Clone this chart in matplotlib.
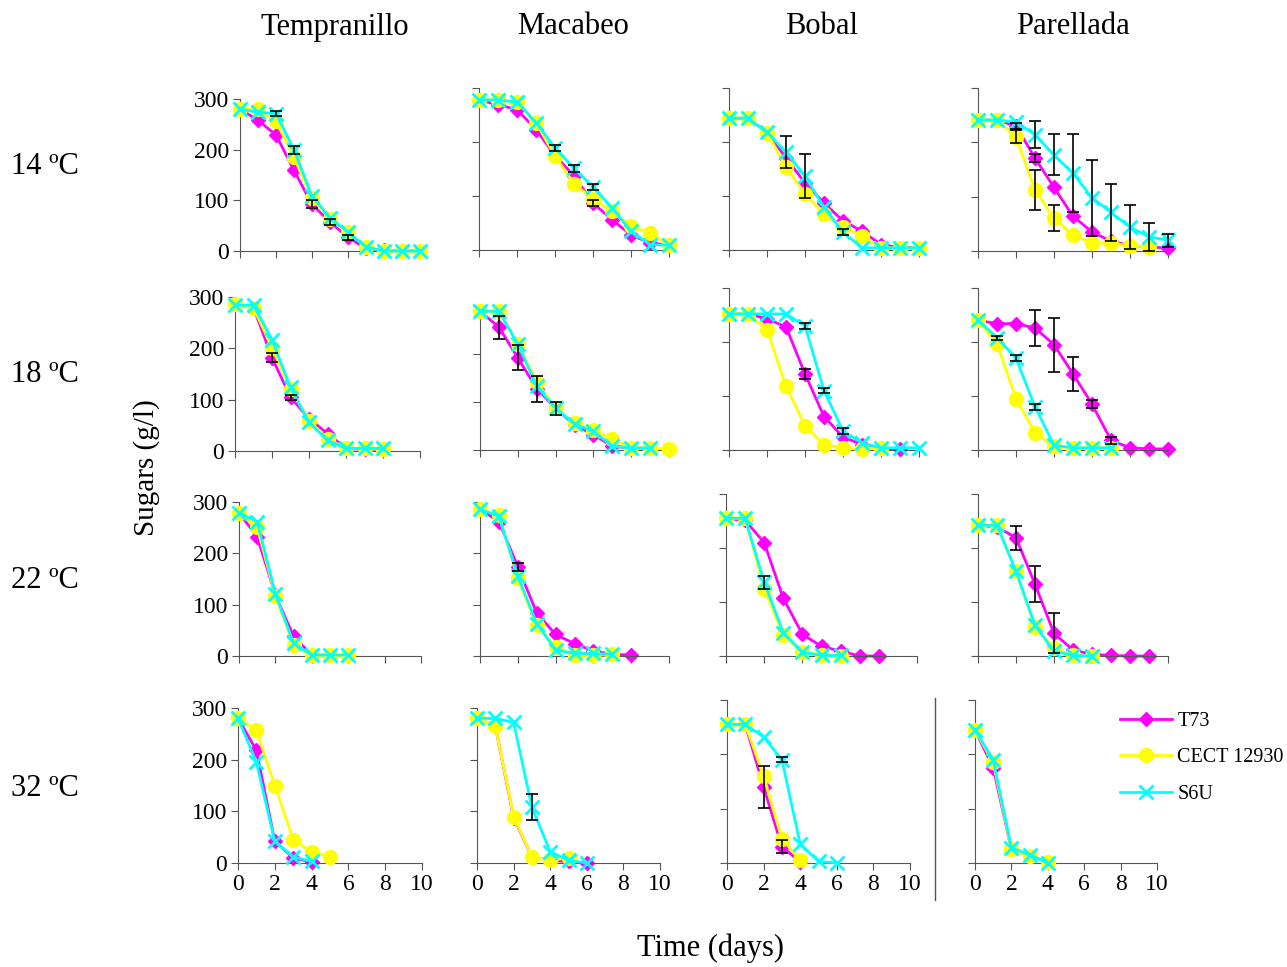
import numpy as np
import matplotlib
matplotlib.use('Agg')
import matplotlib.pyplot as plt
from matplotlib.lines import Line2D

plt.rcParams['font.family'] = ['Liberation Serif', 'DejaVu Serif']

# data
##########
varieties = ['Tempranillo', 'Macabeo', 'Bobal', 'Parellada']
temps = ['14 ºC', '18 ºC', '22 ºC', '32 ºC']
strains = ['T73', 'CECT 12930', 'S6U']
days = [0, 1, 2, 3, 4, 5, 6, 7, 8, 9, 10]

# sugars (g/l), one list per variety: Tempranillo, Macabeo, Bobal, Parellada
t73_14 = [[280, 258, 229, 159, 92, 57, 27, 5, 1, 0, 0],
          [278, 269, 260, 223, 175, 137, 87, 56, 28, 13, 9],
          [244, 244, 217, 171, 124, 87, 54, 35, 10, 4, 4],
          [241, 241, 230, 171, 117, 64, 35, 18, 10, 7, 6]]
cect_14 = [[280, 280, 256, 185, 104, 63, 37, 8, 0, 0, 0],
           [278, 278, 274, 236, 174, 123, 94, 72, 44, 31, 9],
           [244, 244, 217, 154, 104, 66, 43, 26, 4, 4, 3],
           [241, 241, 210, 112, 61, 29, 15, 14, 10, 7]]
s6u_14 = [[280, 274, 271, 200, 108, 66, 37, 8, 0, 0, 0],
          [278, 278, 274, 236, 189, 151, 117, 78, 35, 10, 9],
          [244, 244, 218, 181, 137, 79, 33, 4, 4, 4, 4],
          [241, 241, 237, 214, 177, 143, 98, 71, 44, 26, 20]]

t73_18 = [[286, 279, 182, 105, 63, 34, 5, 3, 3],
          [289, 256, 192, 128, 87, 52, 32, 8, 4, 4],
          [252, 252, 243, 228, 141, 62, 24, 10, 4, 1],
          [240, 234, 234, 226, 195, 141, 85, 18, 4, 2, 2]]
cect_18 = [[286, 279, 201, 121, 59, 24, 5, 5, 3],
           [289, 289, 221, 142, 87, 56, 42, 23, 4, 4, 2],
           [252, 252, 223, 118, 45, 10, 4, 1, 4],
           [240, 197, 95, 32, 7, 4, 4, 4]]
s6u_18 = [[284, 284, 217, 124, 56, 21, 5, 5, 5],
          [289, 289, 221, 133, 87, 54, 39, 8, 4, 4],
          [252, 252, 252, 252, 230, 110, 35, 13, 4, 4, 4],
          [240, 208, 170, 80, 9, 4, 4, 4]]

t73_22 = [[279, 232, 119, 38, 2, 1, 1],
          [286, 262, 174, 84, 42, 24, 10, 3, 2],
          [255, 251, 210, 107, 40, 18, 9, 0, 0],
          [242, 239, 219, 133, 42, 11, 3, 1, 0, 0]]
cect_22 = [[279, 251, 117, 21, 1, 1, 1],
           [286, 275, 151, 60, 18, 1, 1, 3],
           [255, 255, 125, 38, 7, 1, 0],
           [242, 242, 157, 54, 14, 1, 0]]
s6u_22 = [[279, 262, 121, 25, 2, 2, 2],
          [286, 272, 156, 63, 12, 5, 5, 3],
          [255, 255, 137, 43, 7, 1, 1],
          [242, 242, 157, 57, 9, 1, 0]]

t73_32 = [[280, 218, 42, 10, 2],
          [280, 265, 88, 12, 5, 3, 0],
          [255, 255, 140, 30, 2],
          [245, 175, 25, 12, 2]]
cect_32 = [[280, 257, 150, 45, 22, 12],
           [280, 265, 90, 12, 5, 10],
           [255, 255, 160, 45, 5],
           [245, 185, 25, 12, 2]]
s6u_32 = [[280, 195, 42, 12, 3],
          [280, 280, 272, 108, 22, 5, 0],
          [255, 255, 232, 190, 35, 3, 0],
          [245, 190, 28, 15, 0]]

# standard deviations (g/l), same layout; 0 = no visible bar
t73_14_err = [[0, 0, 0, 0, 8, 6, 5, 0, 0, 0, 0],
              [0, 0, 0, 0, 0, 0, 5, 0, 0, 0, 0],
              [0, 0, 0, 0, 0, 0, 0, 0, 0, 0, 0],
              [0, 0, 6, 8, 0, 0, 0, 0, 0, 0, 0]]
cect_14_err = [[0, 0, 0, 0, 0, 0, 0, 0, 0, 0, 0],
               [0, 0, 0, 0, 0, 0, 0, 0, 0, 0, 0],
               [0, 0, 0, 0, 0, 0, 0, 0, 0, 0, 0],
               [0, 0, 12, 37, 24, 0, 0, 0, 0, 0]]
s6u_14_err = [[0, 0, 5, 8, 0, 0, 0, 0, 0, 0, 0],
              [0, 0, 0, 0, 5, 6, 5, 0, 0, 0, 0],
              [0, 0, 0, 30, 40, 0, 5, 0, 0, 0, 0],
              [0, 0, 0, 25, 38, 72, 70, 52, 40, 26, 12]]

t73_18_err = [[0, 0, 8, 5, 0, 0, 0, 0, 0],
              [0, 24, 26, 27, 14, 0, 0, 0, 0, 0],
              [0, 0, 0, 0, 9, 0, 0, 0, 0, 0],
              [0, 0, 0, 34, 50, 32, 8, 6, 0, 0, 0]]
cect_18_err = [[0, 0, 0, 0, 0, 0, 0, 0, 0],
               [0, 0, 0, 0, 0, 0, 0, 0, 0, 0, 0],
               [0, 0, 0, 0, 0, 0, 0, 0, 0],
               [0, 0, 0, 0, 0, 0, 0, 0]]
s6u_18_err = [[0, 0, 0, 0, 0, 0, 0, 0, 0],
              [0, 0, 0, 0, 0, 0, 0, 0, 0, 0],
              [0, 0, 0, 0, 5, 5, 5, 0, 0, 0, 0],
              [0, 4, 6, 6, 0, 0, 0, 0]]

t73_22_err = [[0, 0, 0, 0, 0, 0, 0],
              [0, 0, 8, 0, 0, 0, 0, 0, 0],
              [0, 0, 0, 0, 0, 0, 0, 0, 0],
              [0, 0, 22, 33, 37, 0, 0, 0, 0, 0]]
cect_22_err = [[0, 0, 0, 0, 0, 0, 0],
               [0, 0, 0, 0, 0, 0, 0, 0],
               [0, 0, 0, 0, 0, 0, 0],
               [0, 0, 0, 0, 0, 0, 0]]
s6u_22_err = [[0, 0, 0, 0, 0, 0, 0],
              [0, 0, 0, 0, 0, 0, 0, 0],
              [0, 0, 12, 0, 0, 0, 0],
              [0, 0, 0, 0, 0, 0, 0]]

t73_32_err = [[0, 0, 0, 0, 0],
              [0, 0, 0, 0, 0, 0, 0],
              [0, 0, 38, 12, 0],
              [0, 0, 0, 0, 0]]
cect_32_err = [[0, 0, 0, 0, 0, 0],
               [0, 0, 0, 0, 0, 0],
               [0, 0, 0, 0, 0],
               [0, 0, 0, 0, 0]]
s6u_32_err = [[0, 0, 0, 0, 0],
              [0, 0, 0, 25, 0, 0, 0],
              [0, 0, 0, 5, 0, 0, 0],
              [0, 0, 0, 0, 0]]
##########

values = [[t73_14, cect_14, s6u_14],
          [t73_18, cect_18, s6u_18],
          [t73_22, cect_22, s6u_22],
          [t73_32, cect_32, s6u_32]]
errors = [[t73_14_err, cect_14_err, s6u_14_err],
          [t73_18_err, cect_18_err, s6u_18_err],
          [t73_22_err, cect_22_err, s6u_22_err],
          [t73_32_err, cect_32_err, s6u_32_err]]

# layout in pixels: (x of day 0, x of day 10, y of 0, y of 300)
W, H = 1287, 967
geom = [[(240, 420, 251, 99), (479, 669, 250, 88), (729, 919, 250, 88), (978, 1168, 251, 88)],
        [(235, 420, 451, 297), (480, 669, 450, 306), (729, 919, 450, 288), (978, 1168, 450, 288)],
        [(239, 421, 656, 502), (480, 669, 656, 502), (726, 917, 656, 494), (978, 1168, 656, 494)],
        [(238, 422, 863, 708), (477, 660, 863, 708), (727, 910, 863, 700), (975, 1157, 863, 700)]]

colors = ['#FF00FF', '#FFFF00', '#00FFFF']
markers = ['D', 'o', 'x']
msizes = [7, 10, 10]
axcol = '#555555'

fig = plt.figure(figsize=(W/100, H/100), dpi=100)

handles = []
for r in range(4):
    for c in range(4):
        x0, x1, y0, y1 = geom[r][c]
        ax = fig.add_axes([x0/W, 1 - y0/H, (x1-x0)/W, (y0-y1)/H])
        ax.set_xlim(0, 10)
        ax.set_ylim(0, 300)
        for s in ['top', 'right']:
            ax.spines[s].set_visible(False)
        for s in ['left', 'bottom']:
            ax.spines[s].set_color(axcol)
        ax.set_xticks([0, 2, 4, 6, 8, 10])
        ax.set_yticks([0, 100, 200, 300])
        ax.tick_params(direction='out', length=5, color=axcol, labelsize=17, pad=3)
        if c != 0:
            ax.set_yticklabels([])
        if r != 3:
            ax.set_xticklabels([])
        for k in range(3):
            y = values[r][k][c]
            e = np.array(errors[r][k][c], dtype=float)
            x = days[:len(y)]
            ln, = ax.plot(x, y, color=colors[k], marker=markers[k], ms=msizes[k],
                          mew=2 if markers[k] == 'x' else 1, lw=2, clip_on=False,
                          zorder=2 + k, label=strains[k])
            mask = e > 0
            if mask.any():
                ax.errorbar(np.array(x)[mask], np.array(y)[mask], yerr=e[mask], fmt='none',
                            ecolor='black', elinewidth=1.2, capsize=4, capthick=1.2,
                            clip_on=False, zorder=6)
            if r == 0 and c == 0:
                handles.append(ln)

# titles and labels
col_x = [335, 573, 822, 1073]
for c in range(4):
    fig.text(col_x[c]/W, 1 - 27/H, varieties[c], ha='center', va='center', fontsize=22)
row_y = [166, 374, 581, 789]
for r in range(4):
    fig.text(45/W, 1 - row_y[r]/H, temps[r], ha='center', va='center', fontsize=22)
fig.text(147/W, 1 - 468/H, 'Sugars (g/l)', rotation=90, ha='center', va='center', fontsize=21)
fig.text(711/W, 1 - 948/H, 'Time (days)', ha='center', va='center', fontsize=22)

# separator line in the bottom row
fig.add_artist(Line2D([935/W, 935/W], [1 - 698/H, 1 - 900/H], color=axcol, lw=1))

fig.legend(handles=handles, labels=strains, loc='upper left',
           bbox_to_anchor=(1112/W, 1 - 704/H), frameon=False, fontsize=14.5,
           handlelength=2.6, handletextpad=0.25, labelspacing=0.85, numpoints=1,
           borderaxespad=0)

plt.savefig('out.png', dpi=100)
